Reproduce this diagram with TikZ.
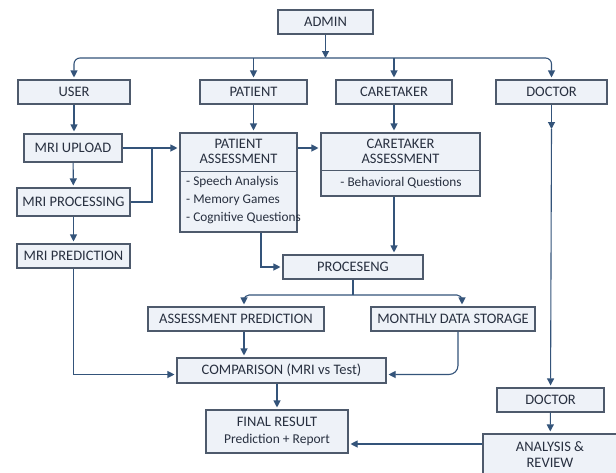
\documentclass[tikz,border=0pt]{standalone}
\usepackage{fontspec}
\setmainfont{Carlito}
\usetikzlibrary{arrows.meta}
\definecolor{boxfill}{HTML}{EEF2F8}
\definecolor{boxline}{HTML}{4E5A6C}
\definecolor{arrowc}{HTML}{34547A}
\definecolor{textc}{HTML}{283040}
\begin{document}
\begin{tikzpicture}[x=1pt,y=-1pt,
  box/.style={draw=boxline, fill=boxfill, line width=1.1pt, inner sep=0pt, text=textc, align=center, font=\fontsize{14.5}{15}\selectfont},
  txt/.style={text=textc, inner sep=0pt, align=center, font=\fontsize{14.5}{15}\selectfont},
  sub/.style={text=textc, inner sep=0pt, font=\fontsize{13.3}{18}\selectfont},
  ln/.style={draw=arrowc, line width=1.1pt},
  arr/.style={ln, -{Triangle[length=7pt,width=7pt]}, shorten >=2pt},
]
\useasboundingbox[fill=white] (0,0) rectangle (616,472);
\clip (0,0) rectangle (616,472);

% row 0 / 1
\node[box, minimum width=95pt, minimum height=24pt] (admin) at (325.5,22) {ADMIN};
\node[box, minimum width=112pt, minimum height=24pt] (user) at (74,92) {USER};
\node[box, minimum width=107pt, minimum height=24pt] (patient) at (253.5,92) {PATIENT};
\node[box, minimum width=116pt, minimum height=24pt] (caretaker) at (394,92) {CARETAKER};
\node[box, minimum width=111pt, minimum height=24pt] (doctor) at (551.5,92) {DOCTOR};

% MRI column
\node[box, minimum width=98pt, minimum height=28pt] (upload) at (73,148) {MRI UPLOAD};
\node[box, minimum width=113pt, minimum height=28pt] (proc) at (73.5,202) {MRI PROCESSING};
\node[box, minimum width=113pt, minimum height=24pt] (pred) at (73.5,256) {MRI PREDICTION};

% assessments
\node[box, minimum width=117pt, minimum height=99pt] (pa) at (238.5,182.5) {};
\draw[draw=boxline, line width=0.8pt] (pa.west |- 0,171) -- (pa.east |- 0,171);
\node[txt] (pat) at (238.5,151) {PATIENT\\ASSESSMENT};
\node[sub, align=left, anchor=west] (pal) at (186,200) {- Speech Analysis\\- Memory Games\\- Cognitive Questions};

\node[box, minimum width=159pt, minimum height=63pt] (ca) at (400.5,164.5) {};
\draw[draw=boxline, line width=0.8pt] (ca.west |- 0,170) -- (ca.east |- 0,170);
\node[txt] (cat) at (400.5,151) {CARETAKER\\ASSESSMENT};
\node[sub] (cal) at (401,183) {- Behavioral Questions};

% processing
\node[box, minimum width=140pt, minimum height=24pt] (proceseng) at (353,267) {PROCESENG};
\node[box, minimum width=176pt, minimum height=24pt] (ap) at (236,319) {ASSESSMENT PREDICTION};
\node[box, minimum width=164pt, minimum height=24pt] (mds) at (453,319) {MONTHLY DATA STORAGE};
\node[box, minimum width=209pt, minimum height=25pt] (comp) at (281.5,370.5) {COMPARISON (MRI vs Test)};
\node[box, minimum width=142pt, minimum height=43pt] (final) at (277,431.5) {FINAL RESULT\\[2pt]{\fontsize{13.5}{15}\selectfont Prediction + Report}};

% doctor branch
\node[box, minimum width=107pt, minimum height=24pt] (doctor2) at (550.5,400) {DOCTOR};
\node[box, minimum width=134pt, minimum height=56pt] (analysis) at (550,462) {};
\node[txt] (anat) at (550,455) {ANALYSIS \&\\[1pt]REVIEW};

% connectors: admin bus
\coordinate (b1) at (325.5,58);
\draw[arr, shorten >=0pt] (admin) -- (b1);
\draw[arr, rounded corners=6pt] (b1) -| (user);
\draw[arr, rounded corners=6pt] (b1) -| (doctor);
\draw[arr] (patient.north |- b1) -- (patient);
\draw[arr] (caretaker.north |- b1) -- (caretaker);

% MRI column
\draw[arr] (user.south) -- (user.south |- upload.north);
\draw[arr] (upload) -- (proc);
\draw[arr] (proc) -- (pred);
\draw[arr] (upload.east) -- (upload.east -| pa.west);
\coordinate (j1) at (152,148);
\draw[ln] (proc.east) -| (j1);

% patient / caretaker
\draw[arr] (patient.south) -- (patient.south |- pa.north);
\draw[arr] (caretaker.south) -- (caretaker.south |- ca.north);
\draw[arr] (pa.east |- upload.east) -- (ca.west |- upload.east);
\draw[arr] ([xshift=22.5pt]pa.south) |- (proceseng.west);
\draw[arr] (caretaker.south |- ca.south) -- (caretaker.south |- proceseng.north);

% processing bus
\coordinate (b2) at (353,295);
\draw[ln] (proceseng.south) -- (b2);
\draw[arr, rounded corners=5pt] (b2) -| ([xshift=8pt]ap.north);
\draw[arr, rounded corners=5pt] (b2) -| ([xshift=9pt]mds.north);

% into comparison
\draw[arr] ([xshift=8pt]ap.south) -- ([xshift=8pt]ap.south |- comp.north);
\draw[arr] (pred.south) |- ([yshift=-4pt]comp.west);
\draw[arr, rounded corners=9pt] ([xshift=5pt]mds.south) |- ([yshift=-4pt]comp.east);
\draw[arr] (final.north |- comp.south) -- (final.north);

% doctor line
\coordinate (dmid) at (551.5,129);
\draw[arr, shorten >=0pt] (doctor) -- (dmid);
\draw[arr] (dmid) -- (doctor2);
\draw[arr] (doctor2) -- (analysis);
\draw[arr] ([yshift=18pt]analysis.west) -- ([yshift=18pt]analysis.west -| final.east);
\end{tikzpicture}
\end{document}
